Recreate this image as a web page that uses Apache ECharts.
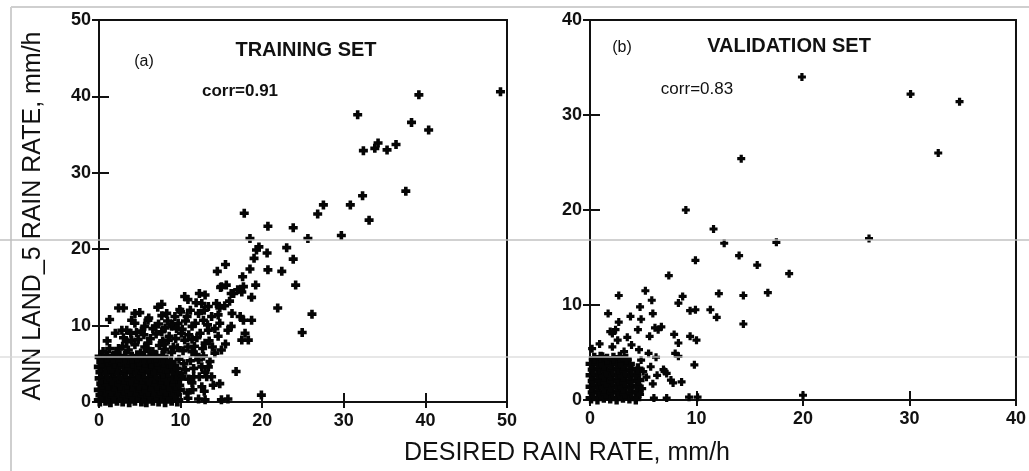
<!DOCTYPE html>
<html>
<head>
<meta charset="utf-8">
<script src="https://cdn.jsdelivr.net/npm/echarts@6/dist/echarts.min.js"></script>
<style>
html,body{margin:0;padding:0;background:#fff;}
#chart{width:1029px;height:471px;}
</style>
</head>
<body>
<div id="chart"></div>
<script>
// ---- tick labels / titles ----
const trainingTicks = [0, 10, 20, 30, 40, 50];
const validationTicks = [0, 10, 20, 30, 40];
const xTitle = 'DESIRED RAIN RATE, mm/h';
const yTitle = 'ANN LAND_5 RAIN RATE, mm/h';
const panelTitles = ['TRAINING SET', 'VALIDATION SET'];
const panelTags = ['(a)', '(b)'];
const corrLabels = ['corr=0.91', 'corr=0.83'];

// ---- (a) training set: isolated points ----
const trainingSparse = [
 [49.2,40.6],[39.2,40.2],[31.7,37.6],[38.3,36.6],[40.4,35.6],[32.4,32.9],[34.2,33.9],[33.8,33.2],
 [35.3,33.0],[36.4,33.7],[37.6,27.6],[32.3,27.0],[30.8,25.8],[27.5,25.8],[26.8,24.6],[33.1,23.8],
 [17.8,24.7],[20.7,23.0],[23.8,22.8],[29.7,21.8],[25.6,21.4],[18.5,21.4],[19.6,20.3],[19.3,19.9],
 [20.6,19.5],[23.0,20.2],[23.8,18.7],[19.0,18.8],[18.5,17.4],[20.7,17.3],[22.4,17.1],[17.6,16.4],
 [15.5,18.0],[14.5,17.1],[19.2,15.3],[24.1,15.3],[14.9,15.0],[17.0,14.7],[16.2,14.2],[18.7,13.7],
 [21.9,12.3],[26.1,11.5],[24.9,9.1],[17.5,8.1],[16.8,4.0],[19.9,0.9]
];
// ---- (a) training set: points around the main cloud ----
const trainingMid = [
 [3.0,12.3],[4.4,11.6],[5.0,11.7],[7.7,12.8],[7.7,11.3],[10.5,13.8],[10.9,13.4],[12.3,14.2],
 [13.0,14.0],[15.0,15.1],[15.6,15.3],[16.5,14.2],[17.5,14.4],[17.7,15.1],[12.6,12.9],[13.4,12.5],
 [14.4,12.9],[14.8,12.3],[16.3,11.6],[17.3,11.2],[17.7,10.7],[18.7,10.7],[18.3,8.1],[17.9,9.0],
 [15.8,9.4],[14.8,10.3],[14.2,9.6],[13.4,9.4],[12.2,11.6],[12.8,10.7],[11.8,10.3],[15.0,6.8],
 [14.2,6.4],[13.0,7.7],[12.2,5.5],[12.6,4.6],[13.4,4.6],[11.6,3.3],[13.8,3.3],[12.6,2.0],
 [14.8,2.4],[15.8,0.4],[15.0,0.3],[12.2,0.4],[13.0,0.3],[10.9,0.5],[2.8,9.4],[3.4,9.4],
 [4.4,10.3],[6.9,9.9],[7.7,9.2],[6.0,10.7],[9.3,11.2],[9.7,10.3],[8.9,9.9],[3.4,7.9],
 [4.0,8.1],[5.6,7.2],[6.0,7.7],[2.4,7.0],[8.5,8.1],[9.1,7.2],[10.1,9.0],[10.5,8.1],
 [10.9,7.2],[11.4,6.6],[0.5,6.6],[1.3,7.0],[2.1,6.5],[2.9,7.3],[3.6,6.8],[4.4,7.5],
 [5.1,6.4],[5.9,7.0],[6.6,6.6],[7.4,7.4],[8.1,6.9],[8.9,6.5],[9.6,7.1],[10.3,6.7],
 [1.0,8.0],[3.0,8.4],[4.8,8.2],[5.5,8.8],[6.3,8.3],[7.0,8.9],[7.8,8.0],[8.6,8.6],
 [9.4,8.3],[10.2,9.5],[11.0,8.8],[6.6,9.6],[8.1,9.7],[9.0,10.2],[10.6,10.6],[11.4,9.9],
 [5.2,9.3],[3.9,9.0],[2.0,9.0],[12.0,8.4],[11.7,7.3],[6.1,11.0],[8.3,11.6],[9.9,12.1],
 [7.2,12.4],[11.2,12.0],[13.5,8.0],[12.8,6.0],[13.0,3.9],[11.2,5.4],[10.6,4.2],[11.4,2.5],
 [10.8,1.2],[11.5,1.6],[2.4,12.3],[4.0,10.7],[1.3,10.8],[9.9,2.2],[11.6,4.4],[12.3,3.3],
 [13.2,3.3],[14.0,2.2],
 [8.4,10.6],[9.5,9.6],[10.0,11.8],[10.8,11.2],[11.9,13.0],[12.9,12.0],[13.8,11.2],[14.6,11.4],
 [13.3,10.1],[12.4,9.0],[11.4,8.2],[12.7,7.0],[13.9,7.2],[14.6,8.6],[15.5,7.6],[16.2,9.9],
 [15.4,12.6],[16.0,13.2],[8.0,7.6],[9.8,5.6],[10.4,5.0],[11.9,6.2],[10.2,3.4],[11.0,3.0],
 [9.6,4.4],[12.9,1.4],[13.6,5.3],[7.3,10.2],[5.6,9.9],[4.6,9.1]
];
// ---- (a) training set: the solid cloud near the origin ----
const trainingDense = [
 [0.1,0.2],[0.8,0.3],[1.4,0.1],[2.2,0.3],[2.9,0.2],[3.7,0.1],[4.4,0.3],[5.2,0.2],[5.8,0.1],[6.6,0.3],[7.3,0.2],[8.1,0.1],[8.9,0.3],[9.6,0.2],
 [0.3,0.9],[1.1,1.0],[1.8,0.8],[2.6,1.0],[3.3,0.9],[4.0,0.8],[4.8,1.0],[5.5,0.9],[6.2,0.8],[7.0,1.0],[7.7,0.9],[8.5,0.8],[9.3,1.0],
 [0.1,1.6],[0.8,1.7],[1.5,1.5],[2.3,1.7],[3.0,1.6],[3.8,1.5],[4.5,1.7],[5.2,1.6],[6.0,1.5],[6.7,1.7],[7.5,1.6],[8.2,1.5],[9.0,1.7],[9.8,1.6],
 [0.4,2.4],[1.1,2.3],[1.9,2.5],[2.6,2.3],[3.4,2.4],[4.1,2.5],[4.9,2.3],[5.6,2.4],[6.4,2.5],[7.1,2.3],[7.9,2.4],[8.6,2.5],[9.4,2.3],
 [0.2,3.1],[0.9,3.2],[1.6,3.0],[2.4,3.2],[3.1,3.1],[3.9,3.0],[4.6,3.2],[5.3,3.1],[6.1,3.0],[6.8,3.2],[7.6,3.1],[8.3,3.0],[9.1,3.2],[9.9,3.1],
 [0.3,3.9],[1.0,3.8],[1.8,4.0],[2.5,3.8],[3.3,3.9],[4.0,4.0],[4.8,3.8],[5.5,3.9],[6.3,4.0],[7.0,3.8],[7.8,3.9],[8.5,4.0],[9.5,3.8],
 [0.1,4.6],[0.8,4.7],[1.6,4.5],[2.3,4.7],[3.1,4.6],[3.8,4.5],[4.6,4.7],[5.3,4.6],[6.0,4.5],[6.8,4.7],[7.5,4.6],[8.3,4.5],[9.0,4.7],
 [0.4,5.3],[1.1,5.4],[1.9,5.2],[2.6,5.4],[3.4,5.3],[4.1,5.2],[4.9,5.4],[5.6,5.3],[6.4,5.2],[7.1,5.4],[7.9,5.3],[8.8,5.2],
 [0.2,5.9],[1.0,6.0],[1.7,5.8],[2.5,6.0],[3.2,5.9],[4.0,5.8],[4.7,6.0],[5.5,5.9],[6.2,5.8],[7.0,6.0],[7.8,5.9]
];

// ---- (b) validation set: isolated points ----
const validationSparse = [
 [19.9,34.0],[30.1,32.2],[34.7,31.4],[32.7,26.0],[14.2,25.4],[9.0,20.0],[11.6,18.0],[12.6,16.5],
 [17.5,16.6],[26.2,17.0],[9.9,14.7],[14.0,15.2],[15.7,14.2],[18.7,13.3],[7.4,13.1],[5.2,11.5],
 [2.7,11.0],[5.8,10.5],[8.7,10.9],[8.3,10.2],[12.1,11.2],[14.4,11.0],[16.7,11.3],[4.7,9.8],
 [9.4,9.4],[9.9,9.5],[11.3,9.5],[11.9,8.7],[14.4,8.0],[5.9,9.1],[1.7,9.1],[3.8,8.8],
 [4.8,8.5],[2.7,8.2],[1.9,7.2],[2.4,7.4],[4.5,7.4],[6.7,7.7],[6.4,7.4],[6.1,7.6],
 [7.9,6.9],[5.6,6.7],[9.4,6.7],[8.3,6.0],[8.0,4.9],[8.3,4.6],[10.0,6.3],[0.2,5.4],
 [1.2,4.6],[9.8,3.7],[7.0,3.0],[7.2,2.8],[6.9,3.2],[7.8,1.8],[8.6,1.9],[7.6,2.1],
 [6.0,0.2],[7.2,0.2],[9.3,0.3],[10.1,0.3],[4.7,0.6],[20.0,0.5],
 [4.9,1.2],[5.3,2.4],[5.7,3.5],[4.8,4.2],[5.5,4.9],[3.2,5.1],[2.1,5.6],[0.9,5.9],
 [3.9,5.8],[4.6,5.3],[6.2,4.5],[5.0,3.0],[5.9,1.7],[6.3,2.6],[2.6,6.3],[2.1,7.0],[3.5,6.6]
];
// ---- (b) validation set: the solid cloud near the origin ----
const validationDense = [
 [0.1,0.2],[0.7,0.1],[1.3,0.3],[1.9,0.2],[2.5,0.1],[3.1,0.3],[3.7,0.2],[4.3,0.1],
 [0.3,0.8],[0.9,0.9],[1.5,0.7],[2.1,0.8],[2.7,0.9],[3.3,0.7],[3.9,0.8],[4.5,0.9],
 [0.1,1.4],[0.7,1.5],[1.3,1.3],[1.9,1.4],[2.5,1.5],[3.1,1.3],[3.7,1.4],[4.4,1.5],
 [0.3,2.0],[0.9,2.1],[1.5,1.9],[2.1,2.0],[2.7,2.1],[3.3,1.9],[3.9,2.0],[4.6,2.1],
 [0.1,2.6],[0.7,2.7],[1.3,2.5],[1.9,2.6],[2.5,2.7],[3.1,2.5],[3.7,2.6],[4.3,2.7],
 [0.3,3.2],[0.9,3.3],[1.5,3.1],[2.1,3.2],[2.7,3.3],[3.3,3.1],[3.9,3.2],[4.5,3.3],
 [0.1,3.8],[0.7,3.9],[1.3,3.7],[1.9,3.8],[2.5,3.9],[3.1,3.7],[3.7,3.8],
 [0.4,4.4],[1.0,4.5],[1.6,4.3],[2.2,4.4],[2.8,4.5],[3.4,4.3]
];

const font = "'Liberation Sans', Arial, sans-serif";
const ink = '#111';
const plusSymbol = 'path://M3,0H7V3H10V7H7V10H3V7H0V3H3Z';

function xAx(grid, ticks, pos, showLabel){
  return {
    type:'value', gridIndex:grid, position:pos, min:ticks[0], max:ticks[ticks.length-1], interval:10,
    axisLine:{show:false},
    axisTick:{show:true, inside:true, length:pos==='bottom'?9:6, lineStyle:{color:ink, width:2}},
    axisLabel:{show:showLabel, margin:10, color:ink, fontSize:18, fontWeight:'bold', fontFamily:font,
      showMinLabel:true, showMaxLabel:true},
    splitLine:{show:false}
  };
}
function yAx(grid, ticks, pos, showLabel){
  return {
    type:'value', gridIndex:grid, position:pos, min:ticks[0], max:ticks[ticks.length-1], interval:10,
    axisLine:{show:false},
    axisTick:{show:true, inside:true, length:pos==='left'?10:7, lineStyle:{color:ink, width:2}},
    axisLabel:{show:showLabel, margin:8, color:ink, fontSize:18, fontWeight:'bold', fontFamily:font,
      showMinLabel:true, showMaxLabel:true},
    splitLine:{show:false}
  };
}
function scatter(xi, yi, size, data){
  return {type:'scatter', xAxisIndex:xi, yAxisIndex:yi, symbol:plusSymbol, symbolSize:size,
    itemStyle:{color:'#050505', opacity:1}, emphasis:{disabled:true}, data:data};
}

const chart = echarts.init(document.getElementById('chart'), null, {renderer:'canvas'});
const option = {
  animation:false,
  backgroundColor:'#fff',
  grid:[
    {left:99, top:20, width:408, height:382, show:true, borderColor:ink, borderWidth:2, backgroundColor:'transparent'},
    {left:590, top:20, width:427, height:380, show:true, borderColor:ink, borderWidth:2, backgroundColor:'transparent'}
  ],
  xAxis:[
    xAx(0, trainingTicks, 'bottom', true),
    xAx(0, trainingTicks, 'top', false),
    xAx(1, validationTicks, 'bottom', true),
    xAx(1, validationTicks, 'top', false)
  ],
  yAxis:[
    yAx(0, trainingTicks, 'left', true),
    yAx(0, trainingTicks, 'right', false),
    yAx(1, validationTicks, 'left', true),
    yAx(1, validationTicks, 'right', false)
  ],
  series:[
    scatter(0, 0, 12, trainingDense),
    scatter(0, 0, 9, trainingMid.concat(trainingSparse)),
    scatter(2, 2, 11, validationDense),
    scatter(2, 2, 8, validationSparse)
  ],
  graphic:[
    // scan frame and faint scan lines
    {type:'line', z:1, shape:{x1:11, y1:7, x2:1029, y2:7}, style:{stroke:'#cfcfcf', lineWidth:2}},
    {type:'line', z:1, shape:{x1:11, y1:7, x2:11, y2:471}, style:{stroke:'#cfcfcf', lineWidth:2}},
    {type:'line', z:100, shape:{x1:0, y1:240, x2:1029, y2:240}, style:{stroke:'rgba(190,190,190,0.7)', lineWidth:2}},
    {type:'line', z:100, shape:{x1:0, y1:357, x2:1029, y2:357}, style:{stroke:'rgba(215,215,215,0.6)', lineWidth:2}},
    // panel texts
    {type:'text', z:50, style:{text:panelTags[0], x:144, y:62, textAlign:'center', textVerticalAlign:'middle', font:"16px "+font, fill:ink}},
    {type:'text', z:50, style:{text:panelTitles[0], x:306, y:50, textAlign:'center', textVerticalAlign:'middle', font:"bold 20px "+font, fill:ink}},
    {type:'text', z:50, style:{text:corrLabels[0], x:240, y:91, textAlign:'center', textVerticalAlign:'middle', font:"bold 17px "+font, fill:ink}},
    {type:'text', z:50, style:{text:panelTags[1], x:622, y:48, textAlign:'center', textVerticalAlign:'middle', font:"16px "+font, fill:ink}},
    {type:'text', z:50, style:{text:panelTitles[1], x:789, y:46, textAlign:'center', textVerticalAlign:'middle', font:"bold 20px "+font, fill:ink}},
    {type:'text', z:50, style:{text:corrLabels[1], x:697, y:89, textAlign:'center', textVerticalAlign:'middle', font:"17px "+font, fill:ink}},
    // axis titles
    {type:'text', z:50, style:{text:xTitle, x:567, y:453, textAlign:'center', textVerticalAlign:'middle', font:"25px "+font, fill:ink}},
    {type:'text', z:50, x:33, y:216, rotation:Math.PI/2, style:{text:yTitle, x:0, y:0, textAlign:'center', textVerticalAlign:'middle', font:"25px "+font, fill:ink}}
  ]
};
chart.setOption(option);
</script>
</body>
</html>
